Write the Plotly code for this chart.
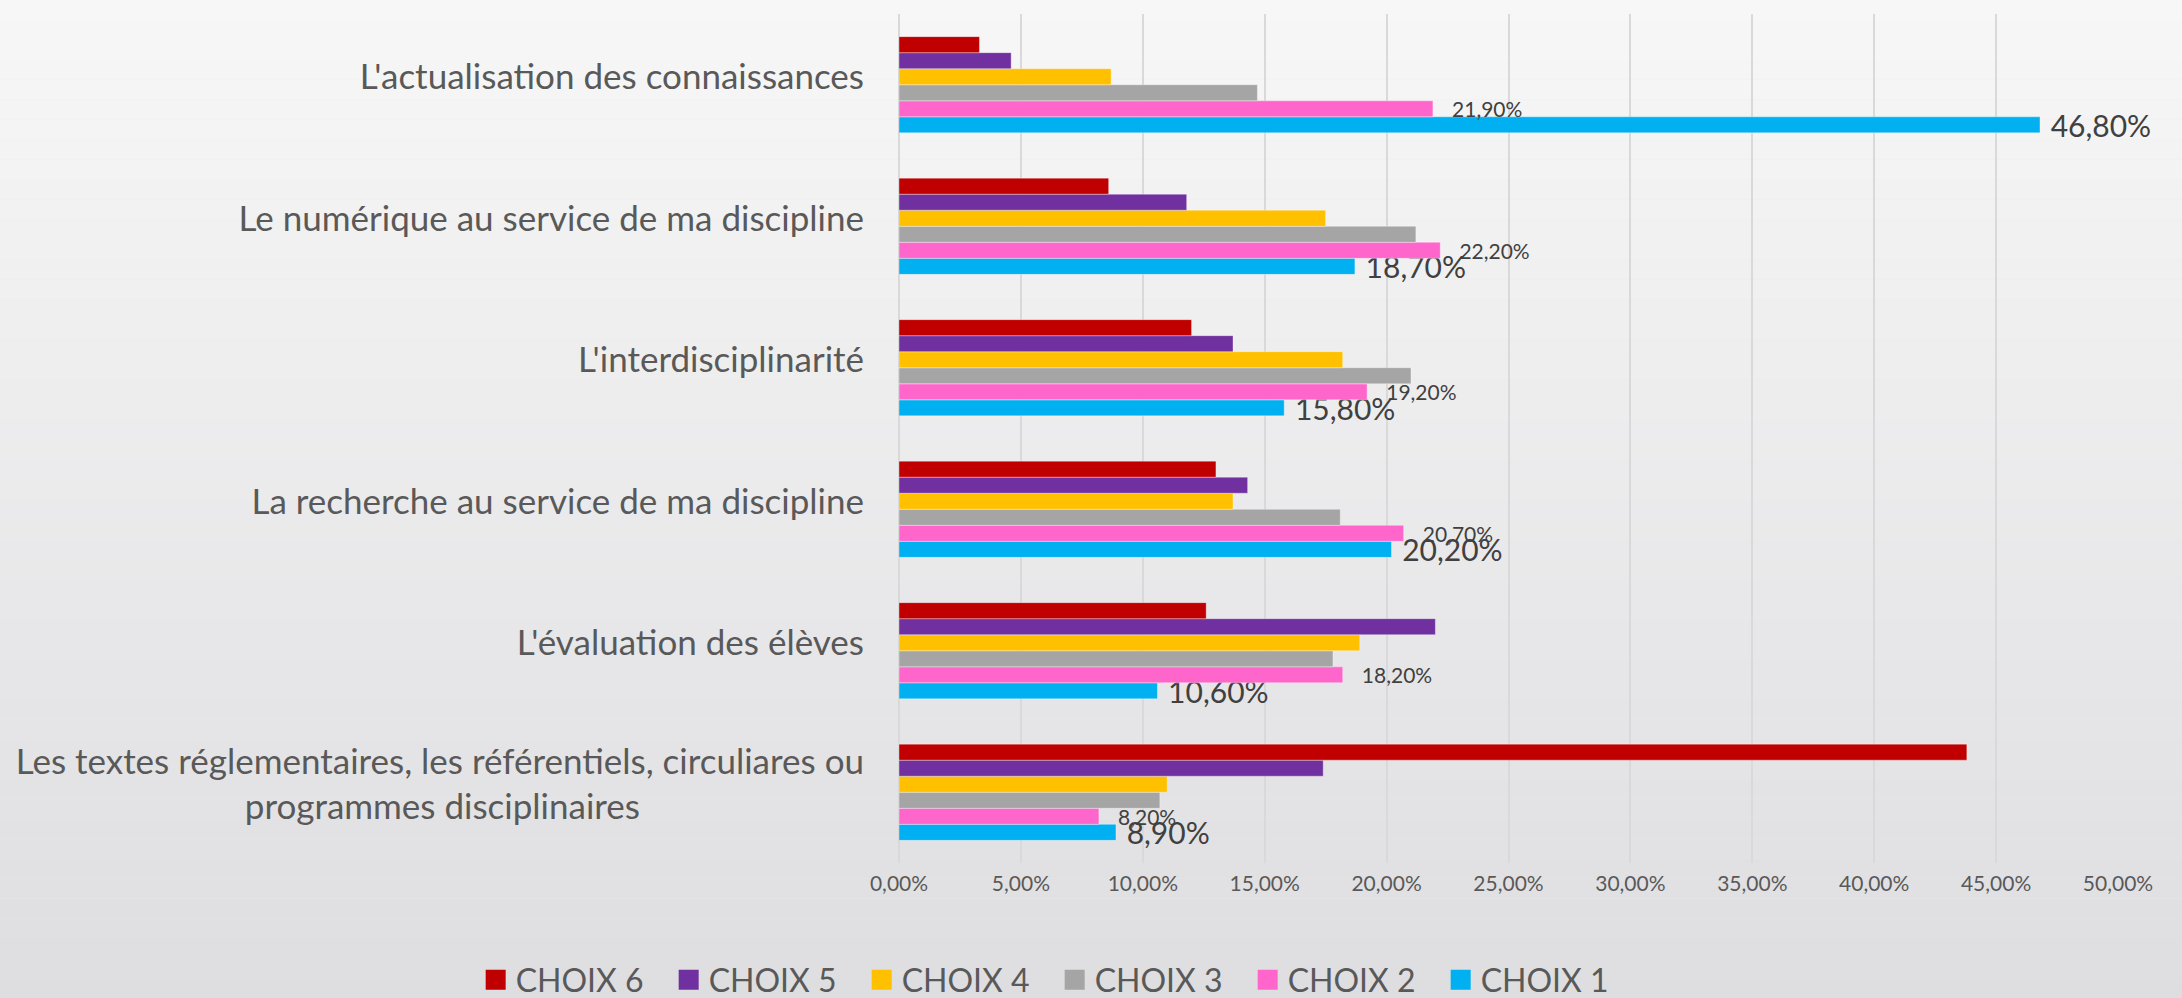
import plotly.graph_objects as go

# ---- data (bottom to top as plotted) ----
categories = [
    "Les textes réglementaires, les référentiels, circuliares ou<br>programmes disciplinaires" + "\u00a0" * 25,
    "L'évaluation des élèves",
    "La recherche au service de ma discipline",
    "L'interdisciplinarité",
    "Le numérique au service de ma discipline",
    "L'actualisation des connaissances",
]
choix1 = [8.9, 10.6, 20.2, 15.8, 18.7, 46.8]
choix2 = [8.2, 18.2, 20.7, 19.2, 22.2, 21.9]
choix3 = [10.7, 17.8, 18.1, 21.0, 21.2, 14.7]
choix4 = [11.0, 18.9, 13.7, 18.2, 17.5, 8.7]
choix5 = [17.4, 22.0, 14.3, 13.7, 11.8, 4.6]
choix6 = [43.8, 12.6, 13.0, 12.0, 8.6, 3.3]

series_names = ["CHOIX 1", "CHOIX 2", "CHOIX 3", "CHOIX 4", "CHOIX 5", "CHOIX 6"]
series_values = [choix1, choix2, choix3, choix4, choix5, choix6]
series_colors = ["#00B0F0", "#FF66CC", "#A5A5A5", "#FFC000", "#7030A0", "#C00000"]

FONT = "Lato, Open Sans, sans-serif"
TXT = "#595959"

W, H = 2182, 998
L, R, T, B = 899, 64, 14, 135

fig = go.Figure()

for i, (name, vals, col) in enumerate(zip(series_names, series_values, series_colors)):
    kw = {}
    if i == 0:
        kw = dict(texttemplate="\u00a0%{x:.2f}%", textposition="outside",
                  textfont=dict(size=30, color="#404040", family=FONT))
    elif i == 1:
        kw = dict(texttemplate="\u00a0\u00a0\u00a0%{x:.2f}%", textposition="outside",
                  textfont=dict(size=21, color="#404040", family=FONT))
    fig.add_trace(go.Bar(
        x=vals, y=categories, orientation="h", name=name,
        marker=dict(color=col, line=dict(width=1, color="rgba(255,255,255,0.35)")),
        showlegend=False, constraintext="none", cliponaxis=False, **kw))

# legend entries (CHOIX 6 ... CHOIX 1)
for name, col in reversed(list(zip(series_names, series_colors))):
    fig.add_trace(go.Scatter(
        x=[None], y=[None], mode="markers", name=name,
        marker=dict(symbol="square", size=16, color=col, line=dict(width=4, color=col)),
        showlegend=True))

# background gradient bands (covering the whole figure)
shapes = []
n = 50
top = (247, 247, 247)
bot = (222, 222, 225)
ph = H - T - B
for k in range(n):
    t = k / (n - 1)
    c = tuple(round(top[j] + (bot[j] - top[j]) * t) for j in range(3))
    pya = H * k / n
    pyb = H * (k + 1) / n
    ya = (H - B - pya) / ph
    yb = (H - B - pyb) / ph
    if k == 0:
        ya += 0.5
    if k == n - 1:
        yb -= 0.5
    shapes.append(dict(type="rect", xref="paper", yref="paper", x0=-2, x1=2,
                       y0=yb, y1=ya, fillcolor="rgb(%d,%d,%d)" % c,
                       line=dict(width=0), layer="below"))

fig.update_layout(
    width=W, height=H,
    margin=dict(l=L, r=R, t=T, b=B, autoexpand=False),
    barmode="group", bargap=0.32, bargroupgap=0,
    separators=", ",
    paper_bgcolor="#ebebed", plot_bgcolor="rgba(0,0,0,0)",
    font=dict(family=FONT, color=TXT, size=21),
    shapes=shapes,
    xaxis=dict(range=[0, 50], dtick=5, tickformat=".2f", ticksuffix="%",
               showgrid=True, gridcolor="#d9d9d9", gridwidth=2,
               zeroline=True, zerolinecolor="#d9d9d9", zerolinewidth=2,
               showline=False, tickfont=dict(size=21, color=TXT, family=FONT),
               ticks="", ticklabelstandoff=6, fixedrange=True, automargin=False),
    yaxis=dict(type="category", categoryorder="array", categoryarray=categories,
               showgrid=False, zeroline=False, showline=False,
               tickfont=dict(size=35, color=TXT, family=FONT),
               ticks="", ticklabelstandoff=34, ticklabelshift=-8,
               fixedrange=True, automargin=False),
    legend=dict(orientation="h", xref="container", yref="container",
                x=0.218, xanchor="left", y=0.018, yanchor="middle",
                font=dict(size=32, color=TXT, family=FONT),
                bgcolor="rgba(0,0,0,0)", entrywidth=148, entrywidthmode="pixels",
                traceorder="normal"),
)

fig.write_html("out.html", config={"displayModeBar": False},
               post_script="document.body.style.margin='0';document.body.style.overflow='hidden';")
